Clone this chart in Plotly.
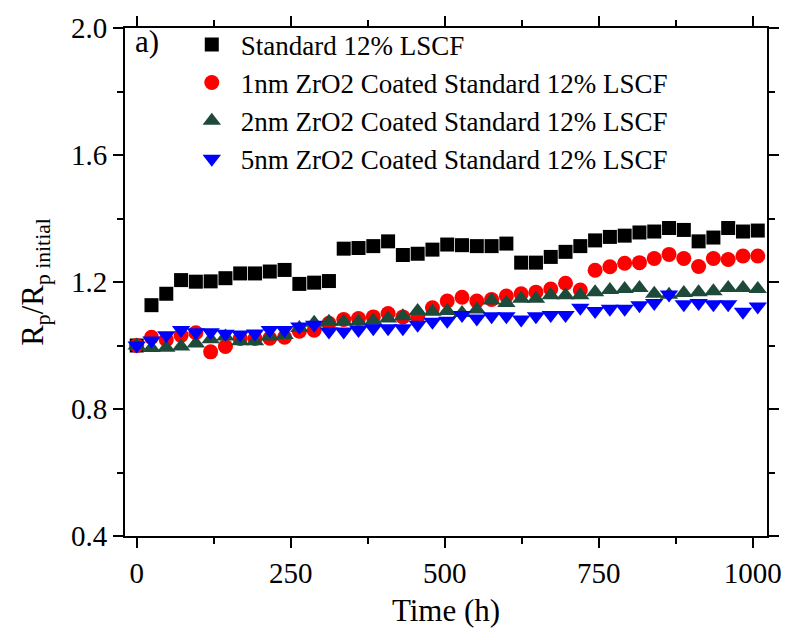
import plotly.graph_objects as go

time_h = [0, 24, 48, 72, 96, 120, 144, 168, 192, 216, 240, 264, 288, 312, 336, 360, 384, 408,
          432, 456, 480, 504, 528, 552, 576, 600, 624, 648, 672, 696, 720, 744, 768, 792, 816,
          840, 864, 888, 912, 936, 960, 984, 1008]

standard = [1.000, 1.127, 1.163, 1.206, 1.201, 1.202, 1.212, 1.227, 1.227, 1.233, 1.238, 1.194,
            1.198, 1.203, 1.305, 1.307, 1.313, 1.328, 1.285, 1.289, 1.302, 1.318, 1.316, 1.313,
            1.313, 1.321, 1.261, 1.261, 1.279, 1.295, 1.313, 1.331, 1.342, 1.346, 1.356, 1.359,
            1.370, 1.364, 1.328, 1.340, 1.370, 1.359, 1.362]

zr1nm = [1.000, 1.026, 1.018, 1.032, 1.040, 0.980, 0.997, 1.022, 1.022, 1.023, 1.026, 1.045,
         1.048, 1.070, 1.082, 1.085, 1.090, 1.101, 1.090, 1.090, 1.119, 1.140, 1.152, 1.140,
         1.145, 1.156, 1.163, 1.168, 1.178, 1.196, 1.175, 1.237, 1.248, 1.259, 1.261, 1.274,
         1.287, 1.274, 1.249, 1.274, 1.271, 1.282, 1.282]

zr2nm = [1.000, 0.992, 0.993, 0.997, 1.006, 1.020, 1.028, 1.013, 1.013, 1.028, 1.033, 1.055,
         1.072, 1.075, 1.075, 1.075, 1.078, 1.085, 1.092, 1.109, 1.106, 1.109, 1.102, 1.113,
         1.142, 1.134, 1.147, 1.147, 1.158, 1.158, 1.158, 1.168, 1.175, 1.178, 1.181, 1.163,
         1.160, 1.165, 1.168, 1.171, 1.181, 1.181, 1.178]

zr5nm = [1.000, 1.016, 1.032, 1.049, 1.042, 1.042, 1.037, 1.035, 1.038, 1.049, 1.049, 1.060,
         1.065, 1.044, 1.044, 1.049, 1.054, 1.054, 1.054, 1.065, 1.075, 1.078, 1.096, 1.085,
         1.092, 1.092, 1.082, 1.092, 1.096, 1.096, 1.119, 1.109, 1.116, 1.116, 1.127, 1.134,
         1.161, 1.130, 1.134, 1.130, 1.130, 1.106, 1.123]

series_names = ["Standard 12% LSCF",
                "1nm ZrO2 Coated Standard 12% LSCF",
                "2nm ZrO2 Coated Standard 12% LSCF",
                "5nm ZrO2 Coated Standard 12% LSCF"]
series_vals = [standard, zr1nm, zr2nm, zr5nm]
colors = ["#000000", "#ff0000", "#1e4a3a", "#0000ff"]
symbols = ["square", "circle", "triangle-up", "triangle-down"]
sizes = [14, 15, 16, 16]

FONT = "Liberation Serif, Times New Roman, serif"

fig = go.Figure()
for name, vals, c, s, sz in zip(series_names, series_vals, colors, symbols, sizes):
    fig.add_trace(go.Scatter(
        x=time_h, y=vals, mode="markers", name=name,
        marker=dict(color=c, symbol=s, size=sz, line=dict(width=0)),
    ))

axis_common = dict(
    showline=True, linecolor="black", linewidth=2, mirror="allticks",
    ticks="outside", ticklen=10, tickwidth=2, tickcolor="black",
    showgrid=False, zeroline=False,
    tickfont=dict(family=FONT, size=29, color="black"),
)

fig.update_xaxes(
    range=[-19, 1023], tickvals=[0, 250, 500, 750, 1000],
    minor=dict(ticks="outside", ticklen=6, tickwidth=2, tickcolor="black", dtick=125, tick0=0),
    title=dict(text="Time (h)", font=dict(family=FONT, size=31, color="black"), standoff=12),
    **axis_common,
)
fig.update_yaxes(
    range=[0.4, 2.0], tickvals=[0.4, 0.8, 1.2, 1.6, 2.0], tickformat=".1f",
    minor=dict(ticks="outside", ticklen=6, tickwidth=2, tickcolor="black", dtick=0.2, tick0=0.4),
    title=dict(text="R<sub>p</sub>/R<sub>p initial</sub>", font=dict(family=FONT, size=31, color="black"), standoff=18),
    **axis_common,
)

fig.add_annotation(
    text="a)", x=0.012, y=1.012, xref="paper", yref="paper", xanchor="left", yanchor="top",
    showarrow=False, font=dict(family=FONT, size=31, color="black"),
)

fig.update_layout(
    width=794, height=638,
    margin=dict(l=125, r=26, t=20, b=102),
    paper_bgcolor="white", plot_bgcolor="white",
    font=dict(family=FONT, color="black"),
    legend=dict(
        x=0.09, y=1.015, xanchor="left", yanchor="top",
        bgcolor="rgba(0,0,0,0)", borderwidth=0,
        font=dict(family=FONT, size=27, color="black"),
        tracegroupgap=0, itemwidth=48,
    ),
)

fig.write_html("out.html")
